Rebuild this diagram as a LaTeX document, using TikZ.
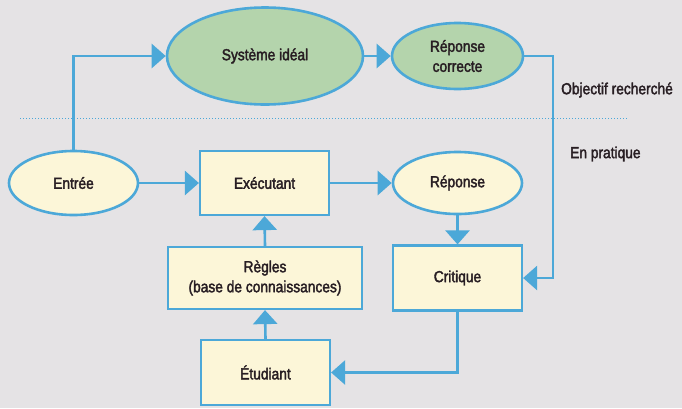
\documentclass[tikz,border=0pt]{standalone}
\usepackage{fontspec}
\setmainfont{Liberation Sans}[FakeStretch=0.86,BoldFont=Liberation Sans,BoldFeatures={FakeBold=2.2}]
\usetikzlibrary{shapes.geometric,arrows.meta}
\definecolor{bgc}{RGB}{229,227,229}
\definecolor{boxc}{RGB}{252,246,216}
\definecolor{greenc}{RGB}{180,212,172}
\definecolor{bluec}{RGB}{76,168,216}
\definecolor{textc}{RGB}{40,30,35}
\tikzset{
  base/.style={draw=bluec, line width=2.6pt, inner sep=0pt, align=center,
    text=textc, font=\fontsize{16}{20}\selectfont\bfseries},
  ell/.style={base, ellipse, fill=boxc},
  gell/.style={base, ellipse, fill=greenc},
  rbox/.style={base, rectangle, fill=boxc, line width=2.2pt},
  conn/.style={draw=bluec, line width=2.6pt},
  arr/.style={conn, -{Triangle[length=14pt,width=24pt]}},
  lbl/.style={text=textc, font=\fontsize{16}{20}\selectfont\bfseries, anchor=west, inner sep=0pt}
}
\begin{document}
\begin{tikzpicture}[x=1pt,y=-1pt]
\fill[bgc] (0,0) rectangle (682,408);
\useasboundingbox (0,0) rectangle (682,408);
% upper part
\node[gell, minimum width=196pt, minimum height=97pt] (ideal) at (265,56) {Système idéal};
\node[gell, minimum width=131pt, minimum height=66pt] (correct) at (457.5,56) {Réponse\\correcte};
% lower part
\node[ell, minimum width=129pt, minimum height=64pt] (entree) at (73.5,183) {Entrée};
\node[rbox, minimum width=129pt, minimum height=64pt] (exec) at (264.5,183) {Exécutant};
\node[ell, minimum width=129pt, minimum height=62pt] (rep) at (457.5,183) {Réponse};
\node[rbox, minimum width=194pt, minimum height=62pt] (regles) at (265,278) {Règles\\(base de connaissances)};
\node[rbox, minimum width=129pt, minimum height=65pt] (critique) at (457.5,278) {Critique};
\node[rbox, minimum width=129pt, minimum height=65pt] (etud) at (265.5,372.5) {Étudiant};
% labels
\node[lbl] (obj) at (561,90) {Objectif recherché};
\node[lbl] (prat) at (570,154) {En pratique};
% dotted separator
\coordinate (dl) at (20,118);
\coordinate (dr) at (628,118);
\draw[bluec, line width=1pt, dotted] (dl) -- (dr);
% connectors
\draw[arr] (entree.north) |- (ideal.west);
\draw[arr] (ideal.east) -- (correct.west);
\coordinate (rc) at (553,56);
\draw[arr] (correct.east) -- (rc) |- (critique.east);
\draw[arr] (entree.east) -- (exec.west);
\draw[arr] (exec.east) -- (rep.west);
\draw[arr] (rep.south) -- (critique.north);
\draw[arr] (regles.north) -- (exec.south);
\draw[arr] (etud.north) -- (regles.south);
\draw[arr] (critique.south) |- (etud.east);
\end{tikzpicture}
\end{document}
